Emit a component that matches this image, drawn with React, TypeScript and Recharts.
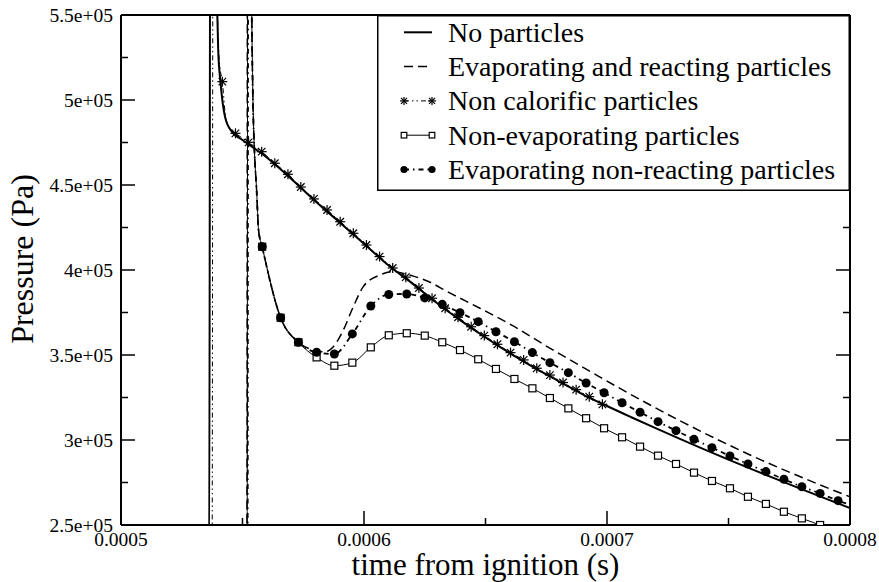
import React from 'react';
import { ComposedChart, Line, Scatter, XAxis, YAxis, Legend, Label } from 'recharts';

type Pair = [number, number];

const SERIF = '"Liberation Serif", "Times New Roman", Times, serif';

// ---------- axes ----------
const X_DOMAIN: [number, number] = [0.0005, 0.0008];
const Y_DOMAIN: [number, number] = [250000, 550000];
const xTicks = [0.0005, 0.0006, 0.0007, 0.0008];
const xTickLabels = ['0.0005', '0.0006', '0.0007', '0.0008'];
const xMinorTicks = [0.00055, 0.00065, 0.00075];
const yTicks = [250000, 300000, 350000, 400000, 450000, 500000, 550000];
const yTickLabels = ['2.5e+05', '3e+05', '3.5e+05', '4e+05', '4.5e+05', '5e+05', '5.5e+05'];
const yMinorTicks = [275000, 325000, 375000, 425000, 475000, 525000];

// ---------- series names, in legend order ----------
const seriesNames = [
  'No particles',
  'Evaporating and reacting particles',
  'Non calorific particles',
  'Non-evaporating particles',
  'Evaporating non-reacting particles',
];

// ---------- series: [time (s), pressure (Pa)] ----------
const noParticles: Pair[] = [
  [0.0005, 232000], [0.0005363, 240000], [0.0005368, 700000], [0.0005388, 640000],
  [0.0005396, 552000], [0.00054, 529400], [0.000541, 509800], [0.0005428, 490200],
  [0.0005456, 481400], [0.00055, 476500], [0.00056, 466200], [0.00057, 453700],
  [0.00058, 440500], [0.00059, 428000], [0.0006, 415500], [0.00061, 402800],
  [0.00062, 392000], [0.00063, 380600], [0.00064, 370100], [0.00065, 360300],
  [0.00066, 351100], [0.00067, 342600], [0.00068, 334700], [0.00069, 326900],
  [0.0007, 320000], [0.00071, 313400], [0.00072, 306950], [0.00073, 300650],
  [0.00074, 294500], [0.00075, 288500], [0.00076, 282600], [0.00077, 276800],
  [0.00078, 271100], [0.00079, 265500], [0.0008, 260000],
];

const evapReacting: Pair[] = [
  [0.0005, 222000], [0.0005518, 236000], [0.0005521, 700000], [0.0005533, 640000],
  [0.0005538, 552000], [0.0005543, 500000], [0.0005549, 470600], [0.0005558, 447100],
  [0.0005566, 423500], [0.0005581, 413700], [0.0005657, 371900], [0.000573, 357500],
  [0.0005805, 352500], [0.000584, 351800], [0.0005874, 354900], [0.0005915, 364700],
  [0.0005956, 378400], [0.0005997, 390200], [0.0006066, 397100], [0.0006121, 399000],
  [0.0006162, 398000], [0.0006203, 396400], [0.0006272, 392800], [0.000634, 387500],
  [0.0006477, 377500], [0.0006614, 367100], [0.0006752, 355100], [0.0006889, 343800],
  [0.000704, 331400], [0.0007313, 310400], [0.0007589, 291200], [0.0007863, 274400],
  [0.0008, 266600],
];

// ignition spike and unmarked path points
const nonCalorificPath: Pair[] = [
  [0.0005, 228000], [0.0005375, 238000], [0.0005379, 690000], [0.0005392, 600000],
  [0.0005398, 545000], [0.0005405, 522000], [0.0005432, 488500], [0.0005452, 482300],
];
// output samples (drawn with markers)
const nonCalorificMarks: Pair[] = [
  [0.0005417, 510800], [0.0005471, 480400], [0.0005525, 475100], [0.0005579, 469600],
  [0.0005633, 462800], [0.0005687, 456300], [0.000574, 448800], [0.0005794, 441800],
  [0.0005848, 435300], [0.0005902, 428400], [0.0005956, 421600], [0.000601, 414700],
  [0.0006064, 407900], [0.0006118, 401200], [0.0006172, 395800], [0.0006226, 389400],
  [0.000628, 383400], [0.0006334, 377500], [0.0006387, 372200], [0.0006441, 366600],
  [0.0006495, 361400], [0.0006549, 356300], [0.0006603, 351400], [0.0006657, 347100],
  [0.0006711, 342200], [0.0006765, 338200], [0.0006819, 333800], [0.0006873, 329600],
  [0.0006927, 325500], [0.0006981, 321000],
];

const nonEvapPath: Pair[] = [
  [0.0005, 226000], [0.0005519, 238000], [0.0005522, 700000], [0.0005533, 640000],
  [0.0005538, 552000], [0.0005543, 500000], [0.0005549, 470600], [0.0005558, 447100],
  [0.0005566, 423500],
];
const nonEvapMarks: Pair[] = [
  [0.0005581, 413700], [0.0005657, 371900], [0.000573, 357500], [0.0005805, 348600],
  [0.0005878, 343700], [0.0005952, 345500], [0.0006028, 354500], [0.0006102, 361600],
  [0.0006176, 362800], [0.000625, 361400], [0.0006322, 357500], [0.0006395, 352900],
  [0.000647, 347500], [0.0006543, 341800], [0.0006619, 335900], [0.0006693, 330400],
  [0.0006765, 324700], [0.0006841, 318600], [0.0006914, 312800], [0.0006988, 306900],
  [0.0007062, 301600], [0.0007136, 296100], [0.000721, 290800], [0.0007284, 285900],
  [0.0007358, 280800], [0.0007432, 275900], [0.0007506, 271600], [0.000758, 266600],
  [0.0007654, 262400], [0.0007728, 257800], [0.0007802, 253900], [0.0007877, 250000],
  [0.0007951, 246300],
];

const evapNonReactPath: Pair[] = [
  [0.0005, 224000], [0.0005521, 236000], [0.0005524, 700000], [0.0005534, 640000],
  [0.0005538, 552000], [0.0005543, 500000], [0.0005549, 470600], [0.0005558, 447100],
  [0.0005566, 423500], [0.0008, 262000],
];
const evapNonReactMarks: Pair[] = [
  [0.0005581, 413700], [0.0005657, 371900], [0.000573, 357500], [0.0005805, 351600],
  [0.0005878, 350600], [0.0005952, 362400], [0.0006028, 378800], [0.0006102, 385600],
  [0.0006176, 385900], [0.000625, 383600], [0.0006322, 379800], [0.0006395, 374900],
  [0.000647, 369600], [0.0006543, 363700], [0.0006619, 357800], [0.0006693, 351400],
  [0.0006765, 345500], [0.0006841, 339600], [0.0006914, 333500], [0.0006988, 327800],
  [0.0007062, 321900], [0.0007136, 316300], [0.000721, 310800], [0.0007284, 305500],
  [0.0007358, 300400], [0.0007432, 295500], [0.0007506, 290600], [0.000758, 285900],
  [0.0007654, 281400], [0.0007728, 276900], [0.0007802, 272500], [0.0007877, 268600],
  [0.0007951, 264300],
];

const rows = (pairs: Pair[]) => pairs.map(([t, p]) => ({ t, p }));
const merged = (...sets: Pair[][]) => rows(([] as Pair[]).concat(...sets).sort((a, b) => a[0] - b[0]));

// ---------- styles ----------
type MarkerKind = 'star' | 'square' | 'circle' | null;
const seriesStyle: Record<string, { width: number; dash?: string; marker: MarkerKind }> = {
  'No particles': { width: 2, marker: null },
  'Evaporating and reacting particles': { width: 1.5, dash: '9 5', marker: null },
  'Non calorific particles': { width: 1, dash: '5 3 1.5 3 1.5 3', marker: 'star' },
  'Non-evaporating particles': { width: 1, marker: 'square' },
  'Evaporating non-reacting particles': { width: 1.8, dash: '5 4 1.5 4', marker: 'circle' },
};

function Marker({ kind, cx, cy, size = 1 }: { kind: MarkerKind; cx: number; cy: number; size?: number }) {
  if (cx == null || cy == null || !kind) return null;
  if (kind === 'star') {
    const r = 5 * size;
    const d = r * 0.75;
    return (
      <g stroke="#000" strokeWidth={1.2}>
        <line x1={cx - r} y1={cy} x2={cx + r} y2={cy} />
        <line x1={cx} y1={cy - r} x2={cx} y2={cy + r} />
        <line x1={cx - d} y1={cy - d} x2={cx + d} y2={cy + d} />
        <line x1={cx - d} y1={cy + d} x2={cx + d} y2={cy - d} />
      </g>
    );
  }
  if (kind === 'square') {
    const h = 3.5 * size;
    return <rect x={cx - h} y={cy - h} width={2 * h} height={2 * h} fill="#fff" stroke="#000" strokeWidth={1.2} />;
  }
  return <circle cx={cx} cy={cy} r={4.5 * size} fill="#000" />;
}

// ---------- ticks (drawn inward, labels outside) ----------
const near = (a: number, b: number, eps: number) => Math.abs(a - b) < eps;
const xLabel = (v: number) => {
  const i = xTicks.findIndex((t) => near(t, v, 1e-9));
  return i >= 0 ? xTickLabels[i] : null;
};
const yLabel = (v: number) => {
  const i = yTicks.findIndex((t) => near(t, v, 1));
  return i >= 0 ? yTickLabels[i] : null;
};
const TICK = { stroke: '#000', strokeWidth: 1.5 };

const BottomTick = (props: any) => {
  const { x, y, payload } = props;
  const label = xLabel(payload.value);
  return (
    <g>
      <line x1={x} x2={x} y1={y} y2={y - (label ? 14 : 7)} {...TICK} />
      {label && (
        <text x={x} y={y + 20.5} textAnchor="middle" fontSize={19.5} fontFamily={SERIF} fill="#000">
          {label}
        </text>
      )}
    </g>
  );
};
const TopTick = (props: any) => {
  const { x, y, payload } = props;
  const major = xLabel(payload.value) != null;
  return <line x1={x} x2={x} y1={y} y2={y + (major ? 14 : 7)} {...TICK} />;
};
const LeftTick = (props: any) => {
  const { x, y, payload } = props;
  const label = yLabel(payload.value);
  return (
    <g>
      <line x1={x} x2={x + (label ? 14 : 7)} y1={y} y2={y} {...TICK} />
      {label && (
        <text x={x - 8} y={y} dy="0.35em" textAnchor="end" fontSize={19.5} fontFamily={SERIF} fill="#000">
          {label}
        </text>
      )}
    </g>
  );
};
const RightTick = (props: any) => {
  const { x, y, payload } = props;
  const major = yLabel(payload.value) != null;
  return <line x1={x} x2={x - (major ? 14 : 7)} y1={y} y2={y} {...TICK} />;
};

const XTitle = (props: any) => {
  const vb = props.viewBox || { x: 121, y: 525, width: 729, height: 57 };
  return (
    <text x={vb.x + vb.width / 2} y={vb.y + 50} textAnchor="middle" fontSize={31} fontFamily={SERIF} fill="#000">
      time from ignition (s)
    </text>
  );
};
const YTitle = (props: any) => {
  const vb = props.viewBox || { x: 0, y: 15, width: 121, height: 510 };
  const cx = vb.x + 33;
  const cy = vb.y + 244;
  return (
    <text x={cx} y={cy} transform={`rotate(-90 ${cx} ${cy})`} textAnchor="middle" fontSize={32} fontFamily={SERIF} fill="#000">
      Pressure (Pa)
    </text>
  );
};

// ---------- legend ----------
const LegendBox = () => (
  <svg width={473} height={176} style={{ display: 'block' }}>
    <rect x={0.75} y={0.75} width={471.5} height={174.5} fill="#fff" stroke="#000" strokeWidth={1.5} />
    {seriesNames.map((name, i) => {
      const st = seriesStyle[name];
      const cy = 17.3 + i * 34.3;
      return (
        <g key={name}>
          <line x1={27} x2={55} y1={cy} y2={cy} stroke="#000" strokeWidth={st.width} strokeDasharray={st.dash} />
          <Marker kind={st.marker} cx={27} cy={cy} size={0.8} />
          <Marker kind={st.marker} cx={55} cy={cy} size={0.8} />
          <text x={71} y={cy + 9.5} fontSize={28} fontFamily={SERIF} fill="#000">
            {name}
          </text>
        </g>
      );
    })}
  </svg>
);

const FRAME = { stroke: '#000', strokeWidth: 2 };
const allXTicks = [...xTicks, ...xMinorTicks].sort((a, b) => a - b);
const allYTicks = [...yTicks, ...yMinorTicks].sort((a, b) => a - b);

export default function App() {
  const seriesData = [
    rows(noParticles),
    rows(evapReacting),
    merged(nonCalorificPath, nonCalorificMarks),
    merged(nonEvapPath, nonEvapMarks),
    merged(evapNonReactPath, evapNonReactMarks),
  ];

  return (
    <div style={{ position: 'absolute', left: 0, top: 0, width: 879, height: 582, background: '#fff' }}>
      <ComposedChart width={879} height={582} margin={{ top: 0, right: 0, bottom: 0, left: 0 }}>
        <XAxis
          xAxisId="b" dataKey="t" type="number" domain={X_DOMAIN} allowDataOverflow
          ticks={allXTicks} interval={0} tickSize={0} tickMargin={0} tickLine={false}
          tick={BottomTick} axisLine={FRAME} height={57}
        >
          <Label content={XTitle} />
        </XAxis>
        <XAxis
          xAxisId="t" orientation="top" type="number" domain={X_DOMAIN} allowDataOverflow
          ticks={allXTicks} interval={0} tickSize={0} tickMargin={0} tickLine={false}
          tick={TopTick} axisLine={FRAME} height={15}
        />
        <YAxis
          yAxisId="l" dataKey="p" type="number" domain={Y_DOMAIN} allowDataOverflow
          ticks={allYTicks} interval={0} tickSize={0} tickMargin={0} tickLine={false}
          tick={LeftTick} axisLine={FRAME} width={121}
        >
          <Label content={YTitle} />
        </YAxis>
        <YAxis
          yAxisId="r" orientation="right" type="number" domain={Y_DOMAIN} allowDataOverflow
          ticks={allYTicks} interval={0} tickSize={0} tickMargin={0} tickLine={false}
          tick={RightTick} axisLine={FRAME} width={29}
        />

        {seriesNames.map((name, i) => (
          <Line
            key={name}
            name={name}
            data={seriesData[i]}
            dataKey="p"
            xAxisId="b"
            yAxisId="l"
            type="monotone"
            stroke="#000"
            strokeWidth={seriesStyle[name].width}
            strokeDasharray={seriesStyle[name].dash}
            dot={false}
            activeDot={false}
            isAnimationActive={false}
          />
        ))}

        <Scatter
          name="stars" data={rows(nonCalorificMarks)} dataKey="p" xAxisId="b" yAxisId="l"
          legendType="none" isAnimationActive={false}
          shape={(p: any) => <Marker kind="star" cx={p.cx} cy={p.cy} />}
        />
        <Scatter
          name="squares" data={rows(nonEvapMarks)} dataKey="p" xAxisId="b" yAxisId="l"
          legendType="none" isAnimationActive={false}
          shape={(p: any) => <Marker kind="square" cx={p.cx} cy={p.cy} />}
        />
        <Scatter
          name="circles" data={rows(evapNonReactMarks)} dataKey="p" xAxisId="b" yAxisId="l"
          legendType="none" isAnimationActive={false}
          shape={(p: any) => <Marker kind="circle" cx={p.cx} cy={p.cy} />}
        />

        <Legend
          layout="vertical" align="center" verticalAlign="middle"
          wrapperStyle={{ left: 377, top: 15, width: 473, height: 176 }}
          content={LegendBox}
        />
      </ComposedChart>
    </div>
  );
}
